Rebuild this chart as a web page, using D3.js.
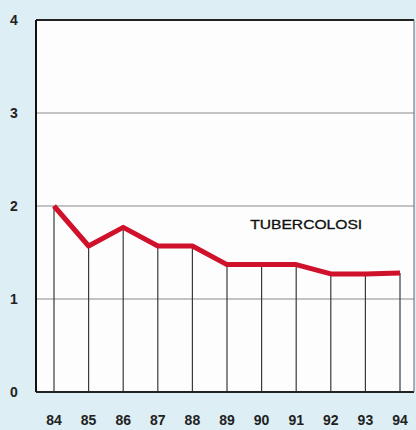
<!DOCTYPE html>
<html>
<head>
<meta charset="utf-8">
<script src="https://cdn.jsdelivr.net/npm/d3@7"></script>
<style>
  body { margin: 0; background: #ddeef5; }
  #chart { width: 416px; height: 430px; }
  text { font-family: "Liberation Sans", Arial, sans-serif; }
</style>
</head>
<body>
<div id="chart"></div>
<script>
const years = ['84', '85', '86', '87', '88', '89', '90', '91', '92', '93', '94'];
const values = [2.0, 1.57, 1.77, 1.57, 1.57, 1.37, 1.37, 1.37, 1.27, 1.27, 1.28];
const yTicks = [0, 1, 2, 3, 4];
const seriesName = 'TUBERCOLOSI';

const width = 416;
const height = 430;
const margin = {top: 20, right: 2, bottom: 38, left: 36};

const svg = d3.select('#chart')
    .append('svg')
    .attr('width', width)
    .attr('height', height);

const x = d3.scalePoint()
    .domain(years)
    .range([margin.left + 18, width - margin.right - 14]);

const y = d3.scaleLinear()
    .domain([0, 4])
    .range([height - margin.bottom, margin.top]);

// white plot area
svg.append('rect')
    .attr('x', margin.left)
    .attr('y', margin.top)
    .attr('width', width - margin.left - margin.right)
    .attr('height', y(0) - margin.top)
    .attr('fill', '#fdfdfd');

// grid lines
svg.append('g')
    .selectAll('line')
    .data(yTicks.filter(d => d > 0 && d < 4))
    .enter()
    .append('line')
    .attr('x1', margin.left)
    .attr('x2', width - margin.right)
    .attr('y1', d => y(d))
    .attr('y2', d => y(d))
    .attr('stroke', '#8a8a8a')
    .attr('stroke-width', 1.2);

// drop lines
svg.append('g')
    .selectAll('line')
    .data(years)
    .enter()
    .append('line')
    .attr('x1', d => x(d))
    .attr('x2', d => x(d))
    .attr('y1', (d, i) => y(values[i]))
    .attr('y2', y(0))
    .attr('stroke', '#3a3a3a')
    .attr('stroke-width', 1.2);

// frame
svg.append('line')
    .attr('x1', margin.left).attr('x2', width - margin.right)
    .attr('y1', y(4)).attr('y2', y(4))
    .attr('stroke', '#222').attr('stroke-width', 1.8);
svg.append('line')
    .attr('x1', margin.left).attr('x2', width - margin.right)
    .attr('y1', y(0)).attr('y2', y(0))
    .attr('stroke', '#222').attr('stroke-width', 1.8);
svg.append('line')
    .attr('x1', margin.left).attr('x2', margin.left)
    .attr('y1', y(4)).attr('y2', y(0))
    .attr('stroke', '#111').attr('stroke-width', 2);
svg.append('line')
    .attr('x1', width - margin.right).attr('x2', width - margin.right)
    .attr('y1', y(4)).attr('y2', y(0))
    .attr('stroke', '#666').attr('stroke-width', 1);

// series line
const line = d3.line()
    .x((d, i) => x(years[i]))
    .y(d => y(d));

svg.append('path')
    .datum(values)
    .attr('d', line)
    .attr('fill', 'none')
    .attr('stroke', '#d0112b')
    .attr('stroke-width', 5)
    .attr('stroke-linejoin', 'round');

// y labels
svg.append('g')
    .selectAll('text')
    .data(yTicks)
    .enter()
    .append('text')
    .attr('x', 14)
    .attr('y', d => y(d) + 5)
    .attr('text-anchor', 'middle')
    .attr('font-size', 14)
    .attr('font-weight', 'bold')
    .attr('fill', '#222')
    .text(d => d);

// x labels
svg.append('g')
    .selectAll('text')
    .data(years)
    .enter()
    .append('text')
    .attr('x', d => x(d))
    .attr('y', 425)
    .attr('text-anchor', 'middle')
    .attr('font-size', 14)
    .attr('font-weight', 'bold')
    .attr('fill', '#222')
    .text(d => d);

// series label
svg.append('text')
    .attr('x', x('91') + 10)
    .attr('y', 229)
    .attr('text-anchor', 'middle')
    .attr('font-size', 12)
    .attr('fill', '#111')
    .attr('stroke', '#111')
    .attr('stroke-width', 0.3)
    .attr('textLength', 112)
    .attr('lengthAdjust', 'spacingAndGlyphs')
    .text(seriesName);
</script>
</body>
</html>
